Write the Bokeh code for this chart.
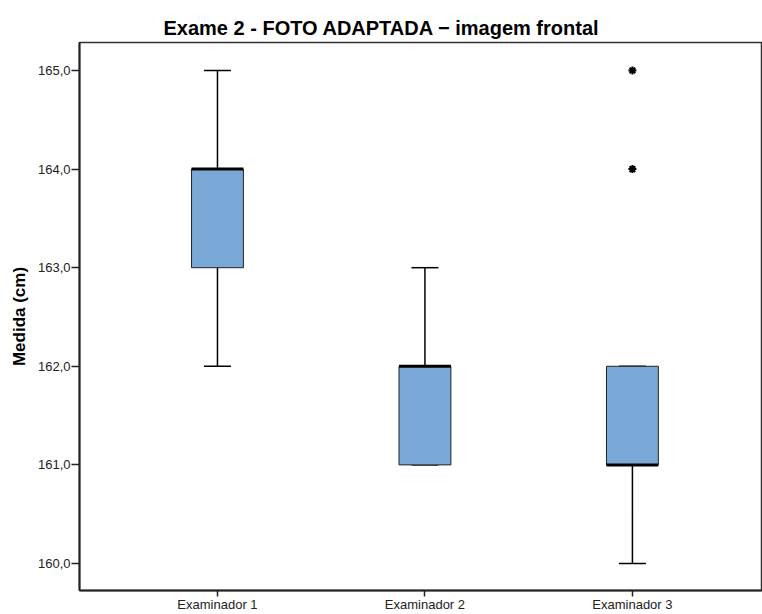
from bokeh.plotting import figure
from bokeh.models import FixedTicker, ColumnDataSource, Range1d, Title
from bokeh.embed import file_html
from bokeh.resources import INLINE

categories = ["Examinador 1", "Examinador 2", "Examinador 3"]
q1 = [163.0, 161.0, 161.0]
q3 = [164.0, 162.0, 162.0]
median = [164.0, 162.0, 161.0]
lower = [162.0, 161.0, 160.0]
upper = [165.0, 163.0, 162.0]
outlier_cat = [3, 3]
outlier_val = [165.0, 164.0]
y_ticks = [160, 161, 162, 163, 164, 165]
y_tick_labels = ["160,0", "161,0", "162,0", "163,0", "164,0", "165,0"]

xs = [i + 1 for i in range(len(categories))]
box_w = 0.25
cap_w = 0.13
font = "Liberation Sans"

p = figure(width=762, height=614, output_backend="svg", toolbar_location=None,
           x_range=Range1d(0.335, 3.627), y_range=Range1d(159.726, 165.284),
           min_border_left=79, min_border_right=0, min_border_top=42, min_border_bottom=24)

p.title = Title(text="Exame 2 - FOTO ADAPTADA \u2212 imagem frontal", align="left",
                text_font=font, text_font_size="20px", text_font_style="bold",
                text_color="black", offset=84, standoff=8)

src = ColumnDataSource(dict(x=xs, q1=q1, q3=q3, med=median, lo=lower, up=upper,
                            bl=[x - box_w / 2 for x in xs], br=[x + box_w / 2 for x in xs],
                            cl=[x - cap_w / 2 for x in xs], cr=[x + cap_w / 2 for x in xs]))

# whiskers
p.segment(x0="x", y0="q3", x1="x", y1="up", source=src, line_color="black", line_width=1.5)
p.segment(x0="x", y0="q1", x1="x", y1="lo", source=src, line_color="black", line_width=1.5)
p.segment(x0="cl", y0="up", x1="cr", y1="up", source=src, line_color="black", line_width=1.5)
p.segment(x0="cl", y0="lo", x1="cr", y1="lo", source=src, line_color="black", line_width=1.5)
# boxes
p.vbar(x="x", width=box_w, top="q3", bottom="q1", source=src,
       fill_color="#7aa8d7", line_color="#222222", line_width=1)
# medians
p.segment(x0="bl", y0="med", x1="br", y1="med", source=src, line_color="black", line_width=3)
# outliers
p.scatter(outlier_cat, outlier_val, marker="asterisk", size=8, line_width=2, line_color="black")

p.xgrid.visible = False
p.ygrid.visible = False
p.outline_line_color = "#333333"
p.outline_line_width = 1.5

p.xaxis.ticker = FixedTicker(ticks=xs)
p.xaxis.major_label_overrides = {x: c for x, c in zip(xs, categories)}
p.yaxis.ticker = FixedTicker(ticks=y_ticks)
p.yaxis.major_label_overrides = {t: l for t, l in zip(y_ticks, y_tick_labels)}
p.yaxis.axis_label = "Medida (cm)"
p.yaxis.axis_label_text_font = font
p.yaxis.axis_label_text_font_size = "17px"
p.yaxis.axis_label_text_font_style = "bold"
p.yaxis.axis_label_text_color = "black"
p.yaxis.axis_label_standoff = 6

for ax in (p.xaxis, p.yaxis):
    ax.axis_line_color = "#222222"
    ax.axis_line_width = 2
    ax.major_tick_line_color = "#222222"
    ax.major_tick_line_width = 1.5
    ax.major_tick_out = 8
    ax.major_tick_in = 0
    ax.minor_tick_line_color = None
    ax.major_label_text_font = font
    ax.major_label_text_font_size = "13px"
    ax.major_label_text_color = "#222222"
p.xaxis.major_tick_out = 6
p.xaxis.major_label_standoff = 0
p.yaxis.major_label_standoff = 1

open("out.html", "w").write(file_html(p, INLINE))
